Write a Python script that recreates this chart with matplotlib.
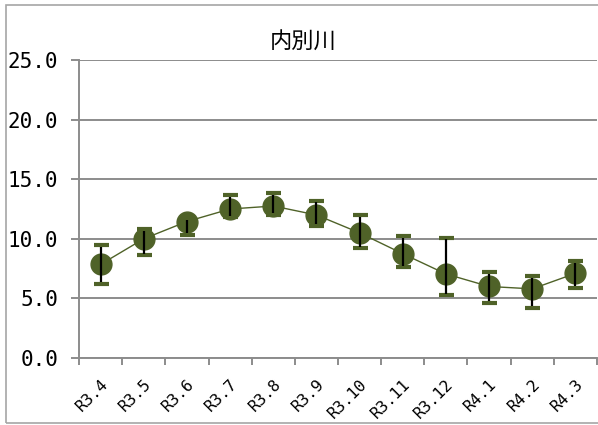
import numpy as np
import matplotlib
matplotlib.use('Agg')
import matplotlib.pyplot as plt
from matplotlib.patches import Rectangle

plt.rcParams['font.family'] = ['Noto Sans CJK JP', 'DejaVu Sans']

# data
months = ['R3.4', 'R3.5', 'R3.6', 'R3.7', 'R3.8', 'R3.9',
          'R3.10', 'R3.11', 'R3.12', 'R4.1', 'R4.2', 'R4.3']
mean = [7.85, 10.0, 11.45, 12.5, 12.75, 12.0, 10.5, 8.75, 7.05, 6.0, 5.8, 7.1]
high = [9.45, 10.8, 11.75, 13.65, 13.85, 13.2, 12.0, 10.2, 10.1, 7.2, 6.9, 8.1]
low = [6.2, 8.6, 10.3, 11.8, 12.0, 11.1, 9.2, 7.6, 5.25, 4.6, 4.2, 5.9]
yticks = [0, 5, 10, 15, 20, 25]

green = '#4f6228'
grey = '#8c8c8c'

fig = plt.figure(figsize=(5.98, 4.25), dpi=100)
ax = fig.add_axes([79 / 598, 67 / 425, 518 / 598, 298 / 425])

x = np.arange(len(months))
mean = np.array(mean)
high = np.array(high)
low = np.array(low)

# green caps at max / min
ax.errorbar(x, mean, yerr=[mean - low, high - mean], fmt='none',
            ecolor=green, elinewidth=0, capsize=5.4, capthick=3, zorder=3)
# line + markers
ax.plot(x, mean, color=green, lw=1, marker='o', ms=15,
        mfc=green, mec=green, zorder=4)
# black range line drawn over the marker
ax.vlines(x, low + 0.15, high - 0.15, color='black', lw=1.6, zorder=5)

ax.set_ylim(0, 25)
ax.set_xlim(-0.5, len(months) - 0.5)
ax.set_yticks(yticks)
ax.set_yticklabels(['%.1f' % v for v in yticks], family='DejaVu Sans Mono',
                   fontsize=15)
ax.yaxis.grid(True, color=grey, lw=1.4)
ax.set_axisbelow(True)

ax.set_xticks(np.arange(-0.5, len(months)), minor=False)
ax.set_xticklabels([])
ax.set_xticks(x, minor=True)
ax.set_xticklabels(months, minor=True, rotation=45, ha='right',
                   rotation_mode='anchor', family='DejaVu Sans Mono',
                   fontsize=11.5)
ax.tick_params(axis='x', which='minor', length=0, pad=13)
ax.tick_params(axis='x', which='major', length=5, color=grey, width=1.4)
ax.tick_params(axis='y', length=6, color=grey, width=1.4, pad=9)

for s in ['top', 'right']:
    ax.spines[s].set_visible(False)
for s in ['left', 'bottom']:
    ax.spines[s].set_color(grey)
    ax.spines[s].set_linewidth(1.4)

fig.text(303.5 / 598, 1 - 42 / 425, '内別川', ha='center', va='center',
         fontsize=16)

# outer chart border
fig.patches.append(Rectangle((6 / 598, 2 / 425), 1.0, 418 / 425,
                             transform=fig.transFigure, fill=False,
                             edgecolor='#a6a6a6', lw=1.2))

fig.savefig('out.png', dpi=100)
